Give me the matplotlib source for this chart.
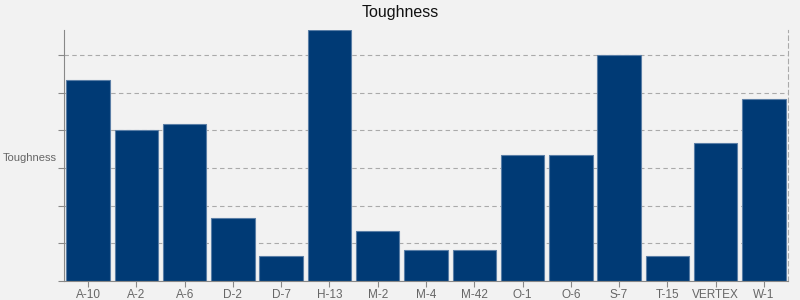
import matplotlib
matplotlib.use("Agg")
from matplotlib import pyplot as plt

plt.rcParams["font.family"] = ["Liberation Sans", "DejaVu Sans"]

steels = ["A-10", "A-2", "A-6", "D-2", "D-7", "H-13", "M-2", "M-4", "M-42",
          "O-1", "O-6", "S-7", "T-15", "VERTEX", "W-1"]
toughness = [8, 6, 6.25, 2.5, 1, 10, 2, 1.25, 1.25, 5, 5, 9, 1, 5.5, 7.25]
grid_ticks = [0, 1.5, 3, 4.5, 6, 7.5, 9]

bg = "#f2f2f2"
grey = "#888888"

fig = plt.figure(figsize=(8, 3), dpi=100, facecolor=bg)
ax = fig.add_axes([0.08, 0.063, 0.905, 0.838], facecolor=bg)

x = range(len(steels))
ax.bar(x, toughness, width=0.9, color="#003a75", edgecolor="#5a7ea6", linewidth=0.8, zorder=2)

ax.set_xlim(-0.5, len(steels) - 0.5)
ax.set_ylim(0, max(toughness))
ax.set_xticks(list(x))
ax.set_xticklabels(steels)
ax.set_yticks(grid_ticks)
ax.set_yticklabels([])
ax.yaxis.grid(True, linestyle=(0, (4, 3)), color="#aaaaaa", linewidth=0.8, zorder=0)

ax.tick_params(axis="both", colors=grey, labelcolor="#666666", labelsize=8.5, length=4, width=0.8, pad=2)

for side in ["left", "bottom"]:
    ax.spines[side].set_color(grey)
    ax.spines[side].set_linewidth(0.8)
ax.spines["top"].set_visible(False)
ax.spines["right"].set_color("#aaaaaa")
ax.spines["right"].set_linestyle((0, (4, 3)))
ax.spines["right"].set_linewidth(0.8)

ax.set_ylabel("Toughness", rotation=0, fontsize=8, color="#666666", va="center", ha="right")
ax.yaxis.set_label_coords(-0.01, 0.49)
fig.suptitle("Toughness", y=0.985, fontsize=11.5, color="#111111", va="top")

fig.savefig("out.png", dpi=100, facecolor=bg)
